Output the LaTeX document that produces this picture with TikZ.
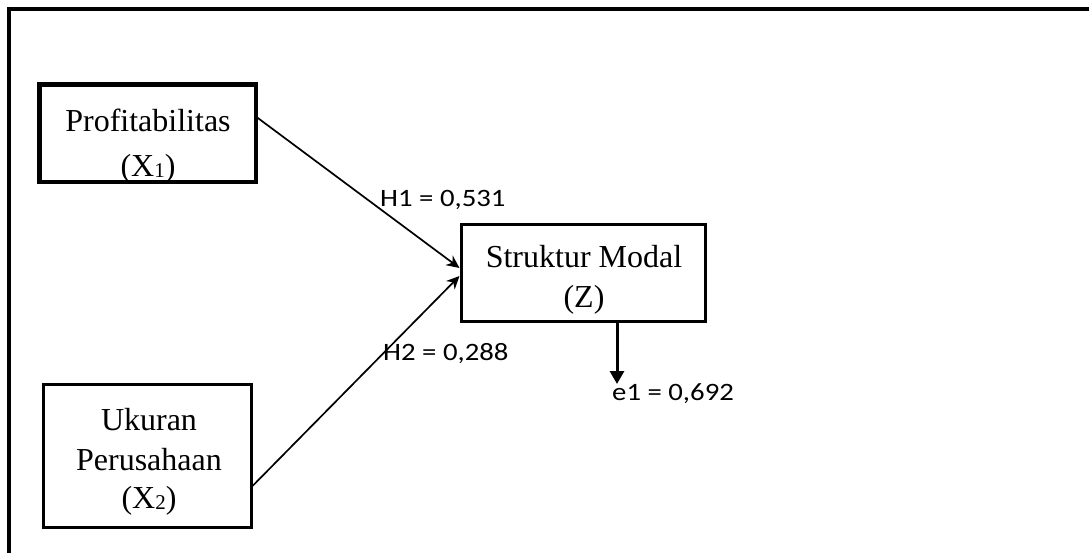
\documentclass[tikz,border=0pt]{standalone}
\usepackage{fontspec}
\setmainfont{Liberation Serif}
\newfontfamily\lblfont[FakeStretch=1.15]{Carlito}
\usetikzlibrary{arrows.meta,calc}
\tikzset{
  boxnode/.style={draw,line width=3pt,rectangle,inner sep=0pt,fill=white},
  boxtext/.style={anchor=base,inner sep=0pt,font=\fontsize{32}{32}\selectfont},
  lbl/.style={anchor=base west,inner sep=0pt,font=\lblfont\fontsize{25}{25}\selectfont},
  diagarrow/.style={line width=1.7pt,-{Stealth[length=13pt,width=12pt]}},
  downarrow/.style={line width=3pt,-{Triangle[length=13pt,width=14pt]}}
}
\newcommand{\smsub}[1]{\raisebox{-1pt}{\fontsize{21}{21}\selectfont #1}}
\begin{document}
\begin{tikzpicture}[x=1pt,y=-1pt]
\useasboundingbox (0,0) rectangle (1089,552);
\fill[white] (0,0) rectangle (1089,552);
% outer frame
\draw[line width=4pt] (9,600) -- (9,9) -- (1120,9);

% boxes
\node[boxnode,minimum width=215pt,minimum height=96pt] (prof) at (147.5,133) {};
\node[boxnode,minimum width=244pt,minimum height=97pt] (struk) at (583,272.5) {};
\node[boxnode,minimum width=208pt,minimum height=143pt] (ukur) at (147,455.5) {};

% texts
\begin{scope}
\clip (prof.north west) rectangle (prof.south east);
\node[boxtext] (proft1) at (148,131) {Profitabilitas};
\node[boxtext] (proft2) at (148,176) {(X\smsub{1})};
\end{scope}
\draw[line width=3pt] (prof.north west) rectangle (prof.south east);

\node[boxtext] (strukt1) at (584,267) {Struktur Modal};
\node[boxtext] (strukt2) at (584,307) {(Z)};

\node[boxtext] (ukurt1) at (149,430) {Ukuran};
\node[boxtext] (ukurt2) at (149,470) {Perusahaan};
\node[boxtext] (ukurt3) at (149,508) {(X\smsub{2})};

% connectors
\draw[diagarrow] ([yshift=16pt]prof.east) -- ([yshift=4.5pt]struk.west);
\draw[diagarrow] ([yshift=-30.5pt]ukur.east) -- ([yshift=-3.5pt]struk.west);

\coordinate (etip) at (617,384);
\draw[downarrow] ([xshift=34pt]struk.south) -- (etip);

% labels
\node[lbl] (h1) at (380,206) {H1 = 0,531};
\node[lbl] (h2) at (383,360) {H2 = 0,288};
\node[lbl] (e1) at (612,400) {e1 = 0,692};
\end{tikzpicture}
\end{document}
